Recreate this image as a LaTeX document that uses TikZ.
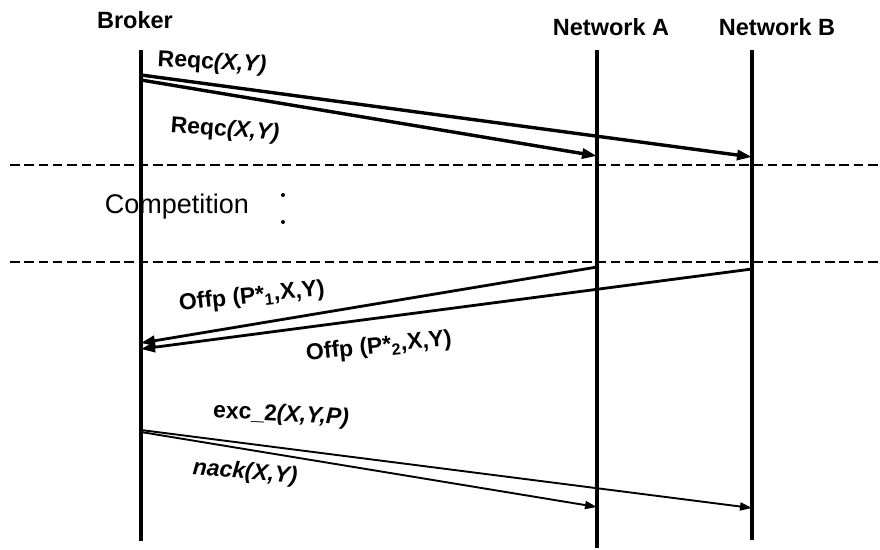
\documentclass[tikz,border=0pt]{standalone}
\usepackage{fontspec}
\setmainfont{Liberation Sans}
\usetikzlibrary{arrows.meta}
\begin{document}
\begin{tikzpicture}[x=1pt,y=-1pt,
  lifeline/.style={line width=3.6pt},
  phase/.style={line width=2.2pt,dash pattern=on 9.5pt off 4.8pt},
  heavymsg/.style={line width=3.4pt,-{Triangle[length=15pt,width=10pt]}},
  midmsg/.style={line width=2.8pt,-{Triangle[length=14pt,width=10pt]}},
  lightmsg/.style={line width=1.9pt,-{Triangle[length=12pt,width=8pt]}},
  head/.style={font=\fontsize{23.5}{28}\selectfont\bfseries,inner sep=0pt},
  msg/.style={font=\fontsize{23}{27}\selectfont\bfseries,inner sep=0pt},
  note/.style={font=\fontsize{27}{32}\selectfont,inner sep=0pt}]
\useasboundingbox (0,0) rectangle (880,549);

% participants
\node[head] (broker) at (135,20) {Broker};
\node[head] (neta) at (611,27) {Network A};
\node[head] (netb) at (777,27) {Network B};

% lifelines
\coordinate (bTop) at (141,50);  \coordinate (bBot) at (141,541);
\coordinate (aTop) at (597,50);  \coordinate (aBot) at (597,548);
\coordinate (cTop) at (752,50);  \coordinate (cBot) at (752,540);
\draw[lifeline] (bTop) -- (bBot);
\draw[lifeline] (aTop) -- (aBot);
\draw[lifeline] (cTop) -- (cBot);

% phase separators
\coordinate (s1L) at (10,165);  \coordinate (s1R) at (880,165);
\coordinate (s2L) at (10,262);  \coordinate (s2R) at (880,262);
\draw[phase] (s1L) -- (s1R);
\draw[phase] (s2L) -- (s2R);

% requests
\coordinate (rq1) at (141,75);  \coordinate (rq1e) at (752,157);
\coordinate (rq2) at (141,80);  \coordinate (rq2e) at (597,156);
\draw[heavymsg] (rq1) -- (rq1e);
\draw[heavymsg] (rq2) -- (rq2e);
\node[msg,rotate=-3] (lrq1) at (212,63) {Reqc\textit{(X,Y)}};
\node[msg,rotate=-4] (lrq2) at (225,130) {Reqc\textit{(X,Y)}};

% competition phase
\node[note] (comp) at (177,207) {Competition};
\fill (283,195) circle (2pt);
\fill (283,222) circle (2pt);

% offers
\coordinate (of1) at (597,267);  \coordinate (of1e) at (141,343);
\coordinate (of2) at (752,269);  \coordinate (of2e) at (141,349);
\draw[midmsg] (of1) -- (of1e);
\draw[midmsg] (of2) -- (of2e);
\node[msg,rotate=6] (lof1) at (252,297) {Offp (P*\textsubscript{1},X,Y)};
\node[msg,rotate=6] (lof2) at (379,347) {Offp (P*\textsubscript{2},X,Y)};

% exchange / rejection
\coordinate (ex) at (141,430);  \coordinate (exe) at (752,508);
\coordinate (nk) at (141,432);  \coordinate (nke) at (597,507);
\draw[lightmsg] (ex) -- (exe);
\draw[lightmsg] (nk) -- (nke);
\node[msg,rotate=-3] (lex) at (281,415) {exc\_2\textit{(X,Y,P)}};
\node[msg,rotate=-5] (lnk) at (245,473) {\textit{nack(X,Y)}};
\end{tikzpicture}
\end{document}
